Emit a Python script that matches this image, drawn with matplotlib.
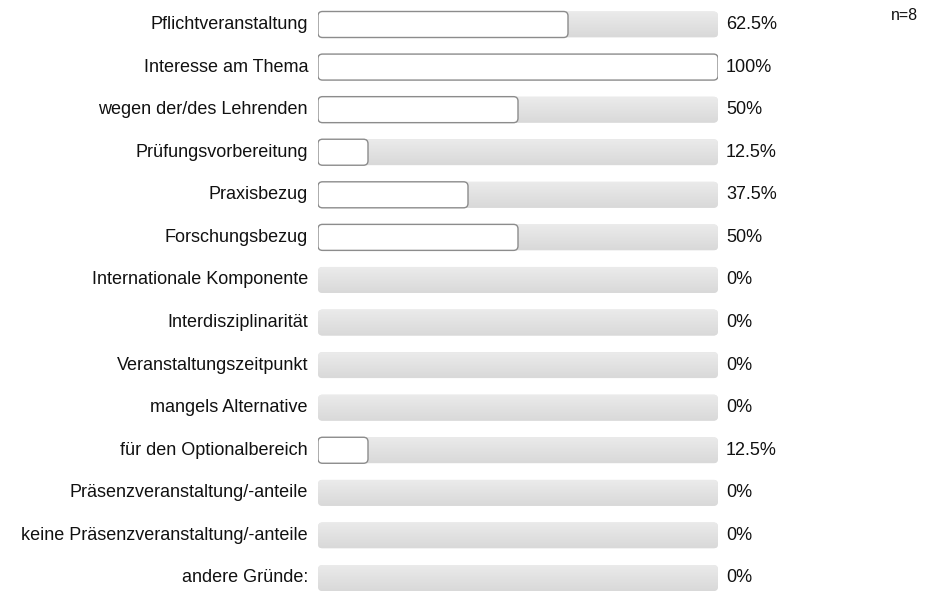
import matplotlib
matplotlib.use("Agg")
import matplotlib.pyplot as plt
from matplotlib.patches import FancyBboxPatch
import numpy as np

categories = ["Pflichtveranstaltung", "Interesse am Thema", "wegen der/des Lehrenden",
              "Prüfungsvorbereitung", "Praxisbezug", "Forschungsbezug",
              "Internationale Komponente", "Interdisziplinarität",
              "Veranstaltungszeitpunkt", "mangels Alternative",
              "für den Optionalbereich", "Präsenzveranstaltung/-anteile",
              "keine Präsenzveranstaltung/-anteile", "andere Gründe:"]
values = [62.5, 100, 50, 12.5, 37.5, 50, 0, 0, 0, 0, 12.5, 0, 0, 0]
value_labels = ["62.5%", "100%", "50%", "12.5%", "37.5%", "50%", "0%", "0%",
                "0%", "0%", "12.5%", "0%", "0%", "0%"]
n_label = "n=8"

plt.rcParams['font.family'] = ['Liberation Sans', 'DejaVu Sans']
W, H = 934, 592
fig = plt.figure(figsize=(W/100, H/100), dpi=100)
x0, x1 = 318, 718
ax = fig.add_axes([x0/W, 0, (x1-x0)/W, 1])
row0, rowN = 24.5, 578
pxrow = (rowN-row0)/13
ax.set_xlim(0, 100)
ax.set_ylim(13 + (H-rowN)/pxrow, -row0/pxrow)
ax.axis('off')

pxx = (x1-x0)/100.0
bh = 26/pxrow
r = 4.5
asp = pxx/pxrow
cmap = matplotlib.colors.LinearSegmentedColormap.from_list('g', ['#ebebeb', '#d9d9d9'])
for i, (c, v, lab) in enumerate(zip(categories, values, value_labels)):
    bg = FancyBboxPatch((0 + r/pxx, i - bh/2 + r/pxrow), 100 - 2*r/pxx, bh - 2*r/pxrow,
                        boxstyle=f"round,pad={r/pxx},rounding_size={r/pxx}",
                        mutation_aspect=asp, facecolor='#e2e2e2', edgecolor='none', zorder=1)
    ax.add_patch(bg)
    grad = np.linspace(0, 1, 64).reshape(-1, 1)
    im = ax.imshow(grad, cmap=cmap, extent=(0, 100, i + bh/2, i - bh/2),
                   aspect='auto', zorder=1.5, interpolation='bilinear')
    im.set_clip_path(bg)
    if v > 0:
        fg = FancyBboxPatch((0 + r/pxx, i - bh/2 + r/pxrow), v - 2*r/pxx, bh - 2*r/pxrow,
                            boxstyle=f"round,pad={r/pxx},rounding_size={r/pxx}",
                            mutation_aspect=asp, facecolor='white', edgecolor='#8c8c8c',
                            linewidth=1.0, zorder=2)
        ax.add_patch(fg)
    ax.text(-10/pxx, i, c, ha='right', va='center', fontsize=13, color='#111111', clip_on=False)
    ax.text(100 + 8/pxx, i, lab, ha='left', va='center', fontsize=13, color='#111111', clip_on=False)

fig.text(918/W, 1 - 15/H, n_label, ha='right', va='center', fontsize=11.5, color='#111111')
fig.savefig("out.png", dpi=100)
